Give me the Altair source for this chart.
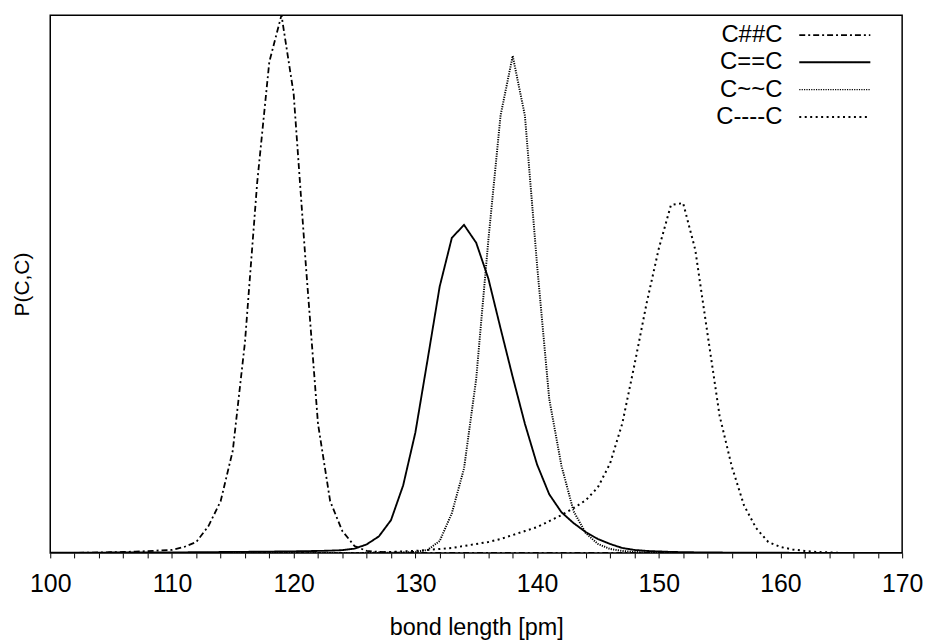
import altair as alt
import pandas as pd

# bond length grid [pm]
bond_length = list(range(100, 171))

series_names = ["C##C", "C==C", "C~~C", "C----C"]

# P(C,C) in arbitrary units
p_triple = [0, 0, 0, 0.3, 0.5, 0.7, 1, 1.3, 1.8, 2.5,          # 100-109
            3, 6, 11, 27, 52, 103, 212, 372, 494, 541,           # 110-119
            462, 290, 130, 52, 22, 7, 2, 1, 0.5, 0,              # 120-129
            0, 0, 0, 0, 0, 0, 0, 0, 0, 0,                        # 130-139
            0, 0, 0, 0, 0, 0, 0, 0, 0, 0,                        # 140-149
            0, 0, 0, 0, 0, 0, 0, 0, 0, 0,                        # 150-159
            0, 0, 0, 0, 0, 0, 0, 0, 0, 0,                        # 160-169
            0]                                                   # 170

p_double = [0.2, 0.2, 0.3, 0.3, 0.3, 0.4, 0.4, 0.4, 0.5, 0.5,  # 100-109
            0.5, 0.6, 0.7, 0.8, 0.9, 1, 1.1, 1.2, 1.3, 1.5,      # 110-119
            1.6, 1.8, 2, 2.3, 2.8, 4.3, 8.6, 16.6, 33, 68,       # 120-129
            121, 194, 268, 317, 330, 312, 276, 226, 177, 130,    # 130-139
            89, 59, 41, 30, 21, 14, 9, 5, 3, 2,                  # 140-149
            1.5, 1, 0.8, 0.6, 0.5, 0.4, 0.3, 0.3, 0.2, 0.2,      # 150-159
            0.2, 0.1, 0.1, 0.1, 0.1, 0, 0, 0, 0, 0,              # 160-169
            0]                                                   # 170

p_arom = [0, 0, 0, 0, 0, 0, 0, 0, 0, 0,                         # 100-109
          0, 0, 0, 0, 0, 0, 0, 0, 0, 0,                         # 110-119
          0, 0, 0, 0, 0, 0, 0, 0, 0.3, 0.6,                     # 120-129
          1, 3, 12, 40, 85, 175, 315, 440, 500, 440,            # 130-139
          290, 155, 88, 42, 20, 9, 4, 2, 1, 0.5,                # 140-149
          0, 0, 0, 0, 0, 0, 0, 0, 0, 0,                         # 150-159
          0, 0, 0, 0, 0, 0, 0, 0, 0, 0,                         # 160-169
          0]                                                    # 170

p_single = [0, 0, 0, 0, 0, 0, 0, 0, 0, 0,                       # 100-109
            0, 0, 0, 0, 0, 0, 0, 0, 0, 0,                       # 110-119
            0, 0, 0, 0, 0, 0, 0, 0.5, 1, 1.5,                   # 120-129
            2, 3, 4, 5, 7, 9, 11, 14, 18, 22,                   # 130-139
            26, 32, 38, 45, 53, 66, 90, 130, 189, 251,          # 140-149
            306, 350, 352, 305, 221, 138, 87, 48, 25, 11,       # 150-159
            6, 3.5, 2, 1, 0.5, 0, 0, 0, 0, 0,                   # 160-169
            0]                                                  # 170

dashes = [[6, 3, 2, 3], [1, 0], [1.2, 1.2], [2, 3.5]]
widths = [1.8, 2.0, 1.3, 2.0]

rows = []
for name, vals in zip(series_names, [p_triple, p_double, p_arom, p_single]):
    for x, v in zip(bond_length, vals):
        rows.append({"series": name, "bond": x, "p": v})
df = pd.DataFrame(rows)

dash_scale = alt.Scale(domain=series_names, range=dashes)
width_scale = alt.Scale(domain=series_names, range=widths)

lines = alt.Chart(df).mark_line(color="black", clip=True).encode(
    x=alt.X("bond:Q",
            scale=alt.Scale(domain=[100, 170], nice=False, zero=False),
            axis=alt.Axis(values=list(range(100, 171, 2)),
                          labelExpr="datum.value % 10 == 0 ? datum.label : ''",
                          labelOverlap=False, labelFlush=False,
                          tickSize=5, tickColor="black", tickWidth=1,
                          domain=False, grid=False,
                          labelFontSize=25, labelColor="black", labelPadding=14,
                          labelFont="Liberation Sans",
                          title="bond length [pm]", titleFontSize=23.5,
                          titleFont="Liberation Sans", titleFontWeight="normal",
                          titleColor="black", titlePadding=19)),
    y=alt.Y("p:Q",
            scale=alt.Scale(domain=[0, 541], nice=False),
            axis=alt.Axis(title="P(C,C)", labels=False, ticks=False, domain=False,
                          grid=False, titleFontSize=21, titleFont="Liberation Sans",
                          titleFontWeight="normal", titleColor="black",
                          titlePadding=18)),
    strokeDash=alt.StrokeDash("series:N", scale=dash_scale, legend=None),
    strokeWidth=alt.StrokeWidth("series:N", scale=width_scale, legend=None),
    detail="series:N",
)

# manual legend (labels left of symbols, right-aligned)
leg_df = pd.DataFrame({"series": series_names})
row_y = [20, 47.5, 75, 102.5]
layers = [lines]
for i, name in enumerate(series_names):
    base = alt.Chart(leg_df).transform_filter(alt.datum.series == name)
    layers.append(base.mark_text(align="right", baseline="middle", fontSize=24,
                                 font="Liberation Sans", color="black").encode(
        text="series:N", x=alt.value(736.5), y=alt.value(row_y[i])))
    layers.append(base.mark_rule(color="black", strokeDash=dashes[i],
                                 strokeWidth=widths[i]).encode(
        x=alt.value(753.5), x2=alt.value(825), y=alt.value(row_y[i])))

chart = alt.layer(*layers).properties(
    width=857, height=541,
    autosize=alt.AutoSizeParams(type="none"),
    padding={"left": 42.5, "top": 5.3, "right": 25, "bottom": 86},
).configure(background="white").configure_view(stroke="black", strokeWidth=1.5)

chart.save("out.html", embed_options={"renderer": "svg", "actions": False})
